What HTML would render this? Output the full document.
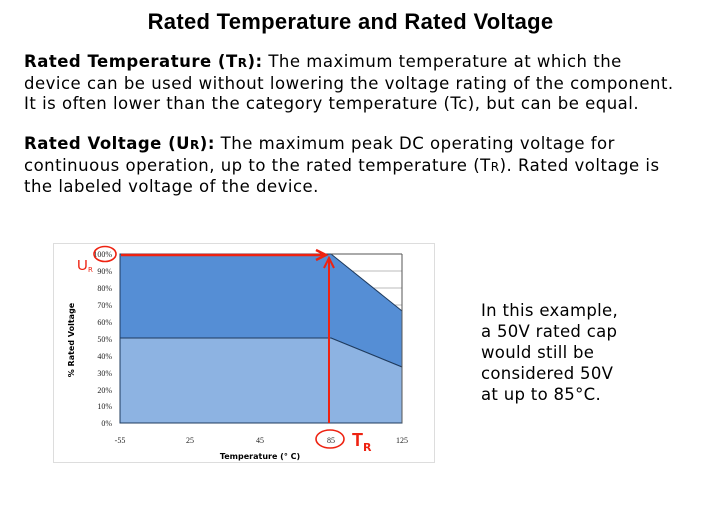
<!DOCTYPE html>
<html><head><style>
body{margin:0;width:701px;height:509px;background:#fff;font-family:"DejaVu Sans",sans-serif;position:relative;overflow:hidden;color:#000}
.t{position:absolute;left:0;width:701px;text-align:center;top:9px;font-size:22px;font-weight:bold;font-family:"Liberation Sans",sans-serif;letter-spacing:0.3px}
.p{position:absolute;left:24px;font-size:16.5px;line-height:20.5px;white-space:nowrap;letter-spacing:0.5px}
.r{position:absolute;left:481px;top:300px;font-size:16.5px;line-height:21px;letter-spacing:0.3px}
</style></head><body>
<div class="t">Rated Temperature and Rated Voltage</div>
<div class="p" style="top:52px"><b>Rated Temperature (T<span style="font-size:12px">R</span>):</b> The maximum temperature at which the<br>device can be used without lowering the voltage rating of the component.<br>It is often lower than the category temperature (Tc), but can be equal.</div>
<div class="p" style="top:134px"><b>Rated Voltage (U<span style="font-size:12px">R</span>):</b> The maximum peak DC operating voltage for<br>continuous operation, up to the rated temperature (T<span style="font-size:12px">R</span>). Rated voltage is<br>the labeled voltage of the device.</div>
<div class="r">In this example,<br>a 50V rated cap<br>would still be<br>considered 50V<br>at up to 85°C.</div>
<svg style="position:absolute;left:0;top:0" width="701" height="509">
<rect x="53.5" y="243.5" width="381" height="219" fill="#fff" stroke="#ddd"/>
<g stroke="#bbb" stroke-width="1">
<line x1="120" y1="271" x2="402" y2="271"/><line x1="120" y1="288" x2="402" y2="288"/><line x1="120" y1="305" x2="402" y2="305"/>
</g>
<polygon points="120,254 331,254 402,311 402,367 331,338 120,338" fill="#558ed5" stroke="#1f3b5e" stroke-width="1"/>
<polygon points="120,338 331,338 402,367 402,423 120,423" fill="#8db3e2" stroke="#1f3b5e" stroke-width="1"/>
<line x1="402" y1="254" x2="402" y2="423" stroke="#555"/>
<line x1="331" y1="254" x2="402" y2="254" stroke="#555"/>
<g font-family="Liberation Serif,serif" font-size="8" text-anchor="end" fill="#222">
<text x="112" y="257">100%</text><text x="112" y="274">90%</text><text x="112" y="291">80%</text><text x="112" y="308">70%</text><text x="112" y="325">60%</text><text x="112" y="342">50%</text><text x="112" y="359">40%</text><text x="112" y="376">30%</text><text x="112" y="393">20%</text><text x="112" y="409">10%</text><text x="112" y="426">0%</text>
</g>
<g font-family="Liberation Serif,serif" font-size="8" text-anchor="middle" fill="#222">
<text x="120" y="443">-55</text><text x="190" y="443">25</text><text x="260" y="443">45</text><text x="331" y="443">85</text><text x="402" y="443">125</text>
</g>
<text x="260" y="459" font-size="8" font-weight="bold" text-anchor="middle">Temperature (° C)</text>
<text transform="translate(74,340) rotate(-90)" font-size="8" font-weight="bold" text-anchor="middle">% Rated Voltage</text>
<g stroke="#e21" fill="none" stroke-width="1.6">
<ellipse cx="105" cy="254" rx="11" ry="7.5"/>
<ellipse cx="330" cy="439" rx="14" ry="9"/>
<line x1="121" y1="255" x2="326" y2="255" stroke-width="2.5"/>
<polyline points="316,250 326,255 316,260" stroke-width="2.5"/>
<line x1="329" y1="423" x2="329" y2="259" stroke-width="2"/>
<polyline points="324,268 329,258 334,268" stroke-width="2"/>
</g>
<text x="77" y="270" font-size="15" fill="#e21" font-family="Liberation Sans,sans-serif">U</text><text x="88" y="272" font-size="7" fill="#e21">R</text>
<text x="352" y="446" font-size="18" fill="#e21" font-family="Liberation Sans,sans-serif" font-weight="bold">T</text><text x="363" y="451" font-size="11" fill="#e21" font-weight="bold">R</text>
</svg>
</body></html>
